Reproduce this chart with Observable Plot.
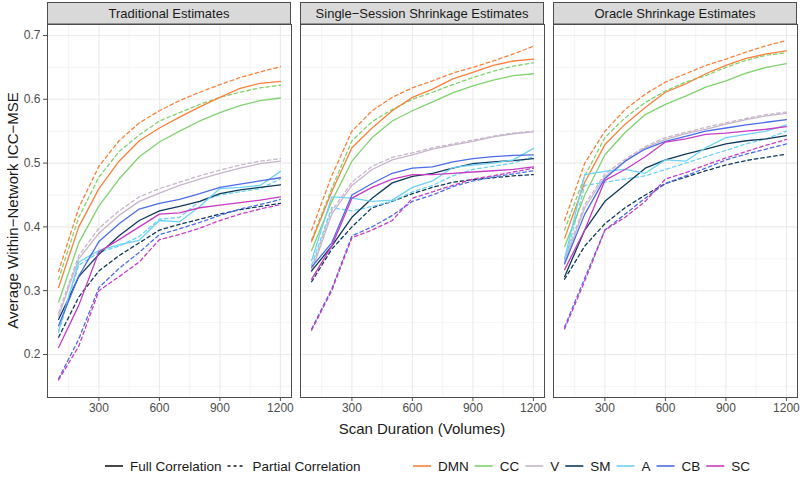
<!DOCTYPE html>
<html><head><meta charset="utf-8">
<script src="https://cdn.jsdelivr.net/npm/d3@7"></script>
<script src="https://cdn.jsdelivr.net/npm/@observablehq/plot@0.6"></script>
<style>
body{margin:0;background:#fff;font-family:"Liberation Sans",Arial,sans-serif;}
#chart{width:800px;height:480px;overflow:hidden;}
#chart svg{display:block;}
</style></head><body><div id="chart"></div>
<script>
const panels = ["Traditional Estimates", "Single\u2212Session Shrinkage Estimates", "Oracle Shrinkage Estimates"];
const networks = ["DMN", "CC", "V", "SM", "A", "CB", "SC"];
const colors = ["#F7813C", "#80D26F", "#C6B6CA", "#0F3A5A", "#6ED2F6", "#4D6CE6", "#C63CC4"];
const types = ["Full Correlation", "Partial Correlation"];
const durations = [100, 200, 300, 400, 500, 600, 700, 800, 900, 1000, 1100, 1200];
const xTicks = [300, 600, 900, 1200];
const xMinor = [150, 450, 750, 1050];
const yTicks = [0.2, 0.3, 0.4, 0.5, 0.6, 0.7];
const yMinor = [0.15, 0.25, 0.35, 0.45, 0.55, 0.65];

// Traditional Estimates (rows: DMN, CC, V, SM, A, CB, SC)
const tradFull = [
  [0.305, 0.400, 0.460, 0.503, 0.535, 0.555, 0.572, 0.588, 0.603, 0.617, 0.625, 0.628],
  [0.282, 0.375, 0.433, 0.475, 0.510, 0.533, 0.550, 0.566, 0.579, 0.590, 0.598, 0.602],
  [0.260, 0.350, 0.390, 0.418, 0.440, 0.453, 0.465, 0.475, 0.484, 0.492, 0.499, 0.503],
  [0.255, 0.322, 0.357, 0.386, 0.410, 0.425, 0.432, 0.440, 0.452, 0.458, 0.462, 0.466],
  [0.237, 0.345, 0.363, 0.372, 0.379, 0.410, 0.408, 0.432, 0.460, 0.462, 0.465, 0.487],
  [0.245, 0.323, 0.377, 0.405, 0.428, 0.437, 0.443, 0.452, 0.462, 0.467, 0.472, 0.477],
  [0.211, 0.277, 0.361, 0.380, 0.400, 0.420, 0.422, 0.430, 0.434, 0.438, 0.442, 0.447]
];
const tradPartial = [
  [0.330, 0.430, 0.495, 0.535, 0.563, 0.582, 0.598, 0.611, 0.623, 0.634, 0.643, 0.651],
  [0.318, 0.415, 0.478, 0.518, 0.544, 0.566, 0.579, 0.592, 0.603, 0.611, 0.618, 0.622],
  [0.265, 0.355, 0.398, 0.425, 0.447, 0.460, 0.470, 0.480, 0.489, 0.497, 0.503, 0.507],
  [0.227, 0.290, 0.331, 0.355, 0.375, 0.395, 0.404, 0.412, 0.420, 0.427, 0.432, 0.437],
  [0.235, 0.340, 0.360, 0.370, 0.385, 0.412, 0.415, 0.440, 0.450, 0.455, 0.460, 0.475],
  [0.162, 0.224, 0.305, 0.335, 0.360, 0.388, 0.397, 0.407, 0.418, 0.428, 0.435, 0.443],
  [0.160, 0.213, 0.300, 0.322, 0.345, 0.380, 0.388, 0.398, 0.410, 0.420, 0.428, 0.435]
];
// Single-Session Shrinkage Estimates
const ssFull = [
  [0.377, 0.455, 0.524, 0.555, 0.582, 0.603, 0.616, 0.632, 0.642, 0.653, 0.660, 0.663],
  [0.363, 0.440, 0.503, 0.540, 0.566, 0.582, 0.596, 0.610, 0.621, 0.630, 0.637, 0.640],
  [0.330, 0.420, 0.465, 0.490, 0.505, 0.513, 0.522, 0.528, 0.534, 0.541, 0.546, 0.549],
  [0.331, 0.370, 0.415, 0.445, 0.469, 0.479, 0.484, 0.492, 0.499, 0.502, 0.504, 0.507],
  [0.347, 0.447, 0.445, 0.440, 0.442, 0.462, 0.472, 0.493, 0.497, 0.500, 0.505, 0.523],
  [0.337, 0.375, 0.450, 0.468, 0.484, 0.492, 0.494, 0.502, 0.507, 0.510, 0.512, 0.513],
  [0.318, 0.370, 0.445, 0.462, 0.475, 0.482, 0.482, 0.484, 0.486, 0.488, 0.490, 0.494]
];
const ssPartial = [
  [0.395, 0.480, 0.550, 0.582, 0.603, 0.618, 0.629, 0.641, 0.650, 0.660, 0.671, 0.683],
  [0.380, 0.460, 0.535, 0.565, 0.584, 0.600, 0.611, 0.623, 0.634, 0.644, 0.652, 0.657],
  [0.335, 0.425, 0.470, 0.495, 0.509, 0.516, 0.524, 0.530, 0.536, 0.542, 0.547, 0.550],
  [0.314, 0.365, 0.400, 0.430, 0.440, 0.452, 0.462, 0.470, 0.474, 0.477, 0.480, 0.482],
  [0.340, 0.430, 0.425, 0.432, 0.440, 0.455, 0.465, 0.480, 0.490, 0.495, 0.500, 0.510],
  [0.240, 0.303, 0.386, 0.400, 0.418, 0.440, 0.450, 0.463, 0.472, 0.478, 0.483, 0.488],
  [0.238, 0.300, 0.383, 0.395, 0.410, 0.445, 0.455, 0.465, 0.475, 0.480, 0.486, 0.492]
];
// Oracle Shrinkage Estimates
const orFull = [
  [0.382, 0.470, 0.529, 0.561, 0.587, 0.611, 0.624, 0.640, 0.653, 0.664, 0.671, 0.676],
  [0.369, 0.450, 0.513, 0.548, 0.576, 0.592, 0.605, 0.619, 0.629, 0.641, 0.650, 0.656],
  [0.345, 0.430, 0.479, 0.503, 0.524, 0.537, 0.546, 0.553, 0.561, 0.568, 0.574, 0.578],
  [0.322, 0.395, 0.440, 0.466, 0.492, 0.505, 0.514, 0.522, 0.530, 0.535, 0.538, 0.543],
  [0.350, 0.482, 0.487, 0.490, 0.484, 0.505, 0.503, 0.524, 0.540, 0.545, 0.550, 0.560],
  [0.342, 0.420, 0.476, 0.503, 0.522, 0.534, 0.542, 0.550, 0.555, 0.560, 0.564, 0.568],
  [0.333, 0.395, 0.473, 0.490, 0.510, 0.533, 0.538, 0.545, 0.547, 0.550, 0.553, 0.557]
];
const orPartial = [
  [0.410, 0.500, 0.550, 0.584, 0.608, 0.627, 0.640, 0.653, 0.663, 0.674, 0.684, 0.692],
  [0.395, 0.480, 0.540, 0.571, 0.595, 0.613, 0.627, 0.637, 0.650, 0.661, 0.669, 0.673],
  [0.350, 0.435, 0.483, 0.506, 0.526, 0.540, 0.548, 0.556, 0.563, 0.570, 0.576, 0.580],
  [0.318, 0.370, 0.405, 0.430, 0.450, 0.468, 0.478, 0.488, 0.497, 0.504, 0.509, 0.514],
  [0.345, 0.465, 0.470, 0.475, 0.480, 0.490, 0.500, 0.510, 0.520, 0.530, 0.538, 0.550],
  [0.243, 0.320, 0.395, 0.420, 0.445, 0.468, 0.480, 0.492, 0.505, 0.514, 0.522, 0.530],
  [0.240, 0.315, 0.395, 0.415, 0.440, 0.475, 0.485, 0.497, 0.508, 0.518, 0.528, 0.537]
];

const series = [[tradFull, tradPartial], [ssFull, ssPartial], [orFull, orPartial]];
const rows = [];
series.forEach((pair, pi) => pair.forEach((ser, ti) => ser.forEach((vals, ni) =>
  vals.forEach((v, di) => rows.push({panel: panels[pi], type: types[ti], network: networks[ni], duration: durations[di], value: v})))));

const W = 800, H = 440;
const plot = Plot.plot({
  width: W, height: H,
  marginLeft: 47, marginRight: 3, marginTop: 24, marginBottom: 43,
  style: {fontFamily: "'Liberation Sans', Arial, sans-serif", fontSize: "12px", color: "#4d4d4d", background: "white"},
  fx: {domain: panels, paddingInner: 0.0356, paddingOuter: 0, axis: null, label: null},
  x: {domain: [45, 1255], ticks: xTicks, tickSize: 4, tickPadding: 2, tickFormat: d => String(d), label: null},
  y: {domain: [0.1326, 0.7172], ticks: yTicks, tickSize: 4, tickPadding: 3, tickFormat: d3.format(".1f"), label: null},
  color: {domain: networks, range: colors},
  marks: [
    Plot.ruleX(xMinor, {stroke: "#EBEBEB", strokeWidth: 0.55, strokeOpacity: 1}),
    Plot.ruleY(yMinor, {stroke: "#EBEBEB", strokeWidth: 0.55, strokeOpacity: 1}),
    Plot.ruleX(xTicks, {stroke: "#EBEBEB", strokeWidth: 1.1, strokeOpacity: 1}),
    Plot.ruleY(yTicks, {stroke: "#EBEBEB", strokeWidth: 1.1, strokeOpacity: 1}),
    Plot.line(rows.filter(d => d.type === types[1]), {fx: "panel", x: "duration", y: "value", z: d => d.network, stroke: "network", strokeWidth: 1.3, strokeDasharray: "3.5,3", strokeLinejoin: "round"}),
    Plot.line(rows.filter(d => d.type === types[0]), {fx: "panel", x: "duration", y: "value", z: d => d.network, stroke: "network", strokeWidth: 1.3, strokeLinejoin: "round"}),
    Plot.frame({stroke: "#4d4d4d", strokeWidth: 1})
  ]
});

const svg = d3.select(plot);
const fx = plot.scale("fx");
const bw = fx.bandwidth;
panels.forEach(p => {
  const x0 = fx.apply(p);
  svg.append("rect").attr("x", x0 + 0.5).attr("y", 2.5).attr("width", bw - 1).attr("height", 21.5)
    .attr("fill", "#D9D9D9").attr("stroke", "#4d4d4d").attr("stroke-width", 1);
  svg.append("text").attr("x", x0 + bw / 2).attr("y", 13.5).attr("text-anchor", "middle").attr("dominant-baseline", "central")
    .attr("font-size", "13px").attr("fill", "#1a1a1a").text(p);
});
const x0 = fx.apply(panels[0]), x2 = fx.apply(panels[2]) + bw;
svg.append("text").attr("x", (x0 + x2) / 2).attr("y", 428).attr("text-anchor", "middle").attr("dominant-baseline", "central")
  .attr("font-size", "15px").attr("fill", "#1a1a1a").text("Scan Duration (Volumes)");
svg.append("text").attr("transform", `translate(12,${(24 + 397) / 2}) rotate(-90)`).attr("text-anchor", "middle").attr("dominant-baseline", "central")
  .attr("font-size", "15px").attr("fill", "#1a1a1a").text("Average Within\u2212Network ICC\u2212MSE");

document.getElementById("chart").appendChild(plot);

// Legend below the plot
const leg = d3.select("#chart").append("svg").attr("width", W).attr("height", 480 - H)
  .style("font-family", "'Liberation Sans', Arial, sans-serif").style("font-size", "13.5px");
const cy = 26;
function addItems(startX, items) {
  let x = startX;
  items.forEach(it => {
    leg.append("line").attr("x1", x).attr("x2", x + 18).attr("y1", cy).attr("y2", cy)
      .attr("stroke", it.color).attr("stroke-width", 1.6).attr("stroke-dasharray", it.dash || null);
    const t = leg.append("text").attr("x", x + 25).attr("y", cy).attr("dominant-baseline", "central").attr("fill", "#1a1a1a").text(it.label);
    x += 25 + t.node().getComputedTextLength() + 6;
  });
}
addItems(105, [{label: types[0], color: "#1a1a1a"}, {label: types[1], color: "#1a1a1a", dash: "3,3"}]);
addItems(413, networks.map((n, i) => ({label: n, color: colors[i]})));
</script></body></html>
